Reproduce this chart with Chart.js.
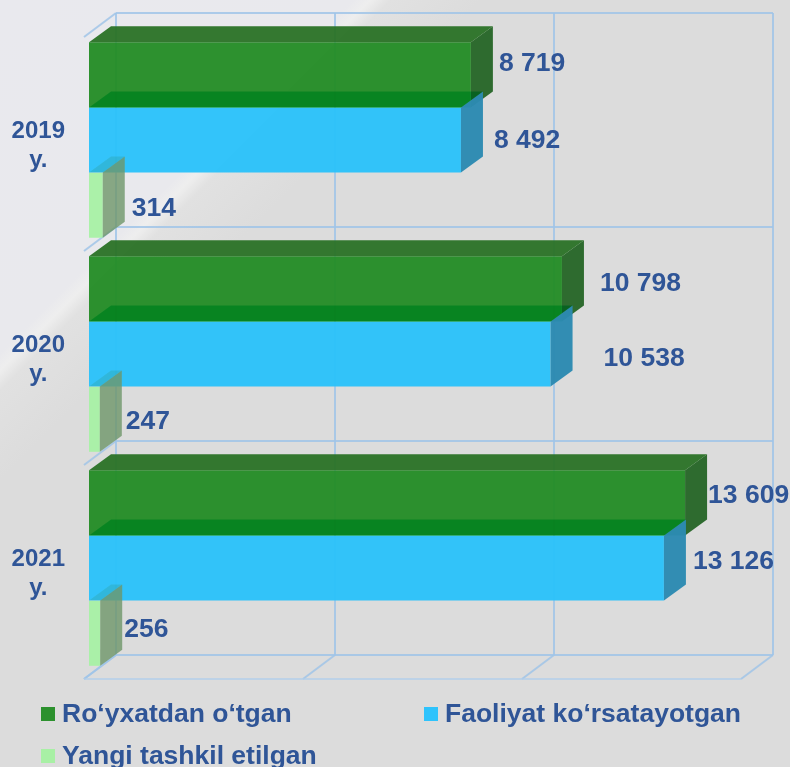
<!DOCTYPE html>
<html>
<head>
<meta charset="utf-8">
<title>Chart</title>
<script src="https://cdn.jsdelivr.net/npm/chart.js@4"></script>
<style>
  html, body { margin: 0; padding: 0; }
  body {
    width: 790px; height: 767px; position: relative; overflow: hidden;
    background: linear-gradient(135deg, #e9e9ee 0, #e9e9ed 250px, #eeeeee 262px, #e1e1e1 276px, #dcdcdc 340px);
    font-family: "Liberation Sans", Arial, sans-serif;
  }
  #wrap { position: absolute; left: 0; top: 0; width: 790px; height: 767px; }
  .leg { position: absolute; display: flex; align-items: center; font-weight: bold; font-size: 26.5px; color: #2f5597; white-space: nowrap; }
  .leg i { display: block; width: 14px; height: 14px; margin-right: 7px; }
</style>
</head>
<body>
<div id="wrap"><canvas id="chart" width="790" height="767"></canvas></div>
<div id="legend"></div>
<script>
const categories = [['2019', 'y.'], ['2020', 'y.'], ['2021', 'y.']];
const registered = [8719, 10798, 13609];
const active = [8492, 10538, 13126];
const created = [314, 247, 256];
const seriesNames = ['Ro‘yxatdan o‘tgan', 'Faoliyat ko‘rsatayotgan', 'Yangi tashkil etilgan'];
const xTicks = [0, 5000, 10000, 15000];

const textColor = '#2f5597';
const gridColor = 'rgba(160,196,232,0.85)';
const frontColors = ['rgba(36,140,38,0.96)', 'rgba(44,194,250,0.97)', 'rgba(168,240,165,0.96)'];
const sideColors = ['rgba(38,102,40,0.96)', 'rgba(44,138,178,0.97)', 'rgba(110,150,105,0.8)'];
// top faces are multiplied over the bar behind them (first one sits on the wall)
const topColors = ['rgba(44,114,40,0.96)', 'rgb(44,232,176)', 'rgb(240,238,224)'];
const topModes = ['source-over', 'multiply', 'multiply'];
const legendSwatches = ['#2c912e', '#2ec3fc', '#a8f0a5'];

// the labels were hand placed in the original, so each one has its own nudge from the bar end
const labelNudgeX = [[28, 33, 29], [38, 53, 26], [23, 29, 24]];
const labelNudgeY = [[-11, 1, 3], [-5, 4.5, 2], [-7, -6, -4]];

// depth of the bars and of the walls around them
const barDepth = { x: 22, y: -16 };
const wallBack = { x: 27, y: -20 };
const wallFront = { x: -5, y: 4 };

function fmt(v) {
  return String(v).replace(/\B(?=(\d{3})+$)/g, ' ');
}

function poly(ctx, pts, color, mode) {
  ctx.save();
  if (mode) ctx.globalCompositeOperation = mode;
  ctx.fillStyle = color;
  ctx.beginPath();
  pts.forEach((p, i) => i ? ctx.lineTo(p[0], p[1]) : ctx.moveTo(p[0], p[1]));
  ctx.closePath();
  ctx.fill();
  ctx.restore();
}

function line(ctx, x1, y1, x2, y2) {
  ctx.beginPath();
  ctx.moveTo(x1, y1);
  ctx.lineTo(x2, y2);
  ctx.stroke();
}

const walls = {
  id: 'walls',
  beforeDatasetsDraw(chart) {
    const { ctx, scales: { x, y } } = chart;
    const band = (y.getPixelForValue(1) - y.getPixelForValue(0));
    const edges = categories.map((_, i) => y.getPixelForValue(i) - band / 2);
    edges.push(y.getPixelForValue(categories.length - 1) + band / 2);
    ctx.save();
    ctx.strokeStyle = gridColor;
    ctx.lineWidth = 2;
    const x0 = x.getPixelForValue(xTicks[0]);
    const xEnd = x.getPixelForValue(xTicks[xTicks.length - 1]);
    const bottom = edges[edges.length - 1];
    edges.forEach(e => {
      line(ctx, x0 + wallBack.x, e + wallBack.y, xEnd + wallBack.x, e + wallBack.y);
      line(ctx, x0 + wallFront.x, e + wallFront.y, x0 + wallBack.x, e + wallBack.y);
    });
    xTicks.forEach(t => {
      const px = x.getPixelForValue(t);
      line(ctx, px + wallBack.x, edges[0] + wallBack.y, px + wallBack.x, bottom + wallBack.y);
      line(ctx, px + wallFront.x, bottom + wallFront.y, px + wallBack.x, bottom + wallBack.y);
    });
    ctx.strokeStyle = 'rgba(175,205,235,0.7)';
    line(ctx, x0 + wallFront.x, bottom + wallFront.y, xEnd + wallFront.x, bottom + wallFront.y);
    ctx.restore();
  }
};

const faces = {
  id: 'faces',
  afterDatasetsDraw(chart) {
    const { ctx } = chart;
    chart.data.datasets.forEach((ds, d) => {
      chart.getDatasetMeta(d).data.forEach((bar, i) => {
        const { x, y, height, base } = bar.getProps(['x', 'y', 'height', 'base'], true);
        const top = y - height / 2;
        const bot = y + height / 2;
        const dx = barDepth.x;
        const dy = barDepth.y;
        poly(ctx, [[x, bot], [x, top], [x + dx, top + dy], [x + dx, bot + dy]], sideColors[d]);
        poly(ctx, [[base, top], [x, top], [x + dx, top + dy], [base + dx, top + dy]], topColors[d], topModes[d]);
      });
    });
    // value labels go on last, above every face
    ctx.save();
    ctx.fillStyle = textColor;
    ctx.font = 'bold 26.5px "Liberation Sans", Arial, sans-serif';
    ctx.textBaseline = 'middle';
    chart.data.datasets.forEach((ds, d) => {
      chart.getDatasetMeta(d).data.forEach((bar, i) => {
        const { x, y } = bar.getProps(['x', 'y'], true);
        ctx.fillText(fmt(ds.data[i]), x + labelNudgeX[i][d], y + labelNudgeY[i][d]);
      });
    });
    ctx.restore();
  }
};

const seriesValues = [registered, active, created];

new Chart(document.getElementById('chart'), {
  type: 'bar',
  data: {
    labels: categories,
    datasets: seriesValues.map((values, d) => ({
      label: seriesNames[d],
      data: values,
      backgroundColor: frontColors[d],
      borderWidth: 0,
      categoryPercentage: 0.914,
      barPercentage: 1
    }))
  },
  options: {
    indexAxis: 'y',
    responsive: false,
    animation: false,
    events: [],
    layout: { autoPadding: false, padding: { left: 0, top: 33, right: 44, bottom: 92 } },
    scales: {
      x: { display: false, min: 0, max: 15000, ticks: { stepSize: 5000 } },
      y: {
        grid: { display: false, drawTicks: false },
        border: { display: false },
        afterFit: s => { s.width = 89; s.paddingTop = 0; s.paddingBottom = 0; },
        ticks: {
          color: textColor,
          crossAlign: 'center',
          padding: 24,
          labelOffset: 6,
          font: { family: '"Liberation Sans", Arial, sans-serif', size: 24, weight: 'bold', lineHeight: 1.2 }
        }
      }
    },
    plugins: { legend: { display: false }, tooltip: { enabled: false } }
  },
  plugins: [walls, faces]
});

const legendSpots = [{ left: 41, top: 698 }, { left: 424, top: 698 }, { left: 41, top: 740 }];
document.getElementById('legend').innerHTML = seriesNames.map((name, i) =>
  `<div class="leg" style="left:${legendSpots[i].left}px;top:${legendSpots[i].top}px;"><i style="background:${legendSwatches[i]}"></i><span>${name}</span></div>`
).join('');
</script>
</body>
</html>
